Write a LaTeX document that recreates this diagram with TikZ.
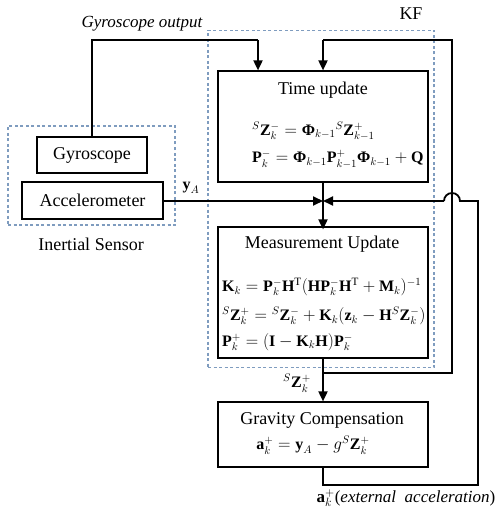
\documentclass[tikz,border=0pt]{standalone}
\usepackage{fontspec}
\setmainfont{Liberation Serif}
\usetikzlibrary{arrows.meta}
\definecolor{dashblue}{HTML}{7F9CBF}
\begin{document}
\begin{tikzpicture}[x=1pt,y=-1pt,
  every node/.style={font=\fontsize{18}{21}\selectfont, inner sep=0pt},
  blk/.style={draw=black, line width=1.2pt, rectangle},
  grp/.style={draw=dashblue, line width=1.1pt, dash pattern=on 3pt off 2.5pt},
  conn/.style={draw=black, line width=1.8pt},
  arr/.style={conn, -{Triangle[length=10pt,width=9pt]}},
  eq/.style={anchor=west, font=\fontsize{16}{19}\selectfont}]
\useasboundingbox (0,0) rectangle (500,513);

% group boxes
\node[grp, minimum width=226pt, minimum height=337pt] (kf) at (321,199) {};
\node[grp, minimum width=167pt, minimum height=99pt] (ins) at (91.5,175.5) {};
\node (kflabel) at (411,14) {KF};
\node (inslabel) at (91,244) {Inertial Sensor};

% sensor blocks
\node[blk, minimum width=110pt, minimum height=36pt] (gyro) at (92,155) {Gyroscope};
\node[blk, minimum width=141pt, minimum height=37pt] (acc) at (92.5,200.5) {Accelerometer};

% KF blocks
\node[blk, minimum width=210pt, minimum height=111pt] (tu) at (323,126.5) {};
\node (tutitle) at (323,90) {Time update};
\node[eq] (tueq1) at (252,131) {${}^{S}\textbf{Z}_k^- = \textbf{Φ}_{k-1}{}^{S}\textbf{Z}^+_{k-1}$};
\node[eq] (tueq2) at (252,159) {$\textbf{P}_k^- = \textbf{Φ}_{k-1}\textbf{P}^+_{k-1}\textbf{Φ}_{k-1} + \textbf{Q}$};

\node[blk, minimum width=210pt, minimum height=131pt] (mu) at (323,292.5) {};
\node (mutitle) at (322,244) {Measurement Update};
\node[eq] (mueq1) at (222,287) {$\textbf{K}_k = \textbf{P}_k^-\textbf{H}^{\mathrm{T}}(\textbf{HP}_k^-\textbf{H}^{\mathrm{T}} + \textbf{M}_k)^{-1}$};
\node[eq] (mueq2) at (222,316) {${}^{S}\textbf{Z}_k^+ = {}^{S}\textbf{Z}_k^- + \textbf{K}_k(\textbf{z}_k - \textbf{H}{}^{S}\textbf{Z}_k^-)$};
\node[eq] (mueq3) at (222,342) {$\textbf{P}_k^+ = (\textbf{I} - \textbf{K}_k\textbf{H})\textbf{P}_k^-$};

\node[blk, minimum width=210pt, minimum height=65pt] (gc) at (323,434.5) {};
\node (gctitle) at (322,420) {Gravity Compensation};
\node[font=\fontsize{16}{19}\selectfont] (gceq) at (313,445) {$\textbf{a}_k^+ = \textbf{y}_A - g{}^{S}\textbf{Z}_k^+$};

% labels
\node (gyrolabel) at (142,24) {\fontsize{17}{20}\selectfont\itshape Gyroscope output};
\node[font=\fontsize{16}{19}\selectfont] (yalabel) at (191,188) {$\textbf{y}_A$};
\node[font=\fontsize{16}{19}\selectfont] (zlabel) at (297,383) {${}^{S}\textbf{Z}_k^+$};
\node[font=\fontsize{17}{20}\selectfont] (alabel) at (406,498) {$\textbf{a}_k^+$(\textit{external\ \ acceleration})};

% coordinates
\coordinate (j) at (323,201);
\coordinate (g1) at (92,40);
\coordinate (g2) at (258,40);
\coordinate (f1) at (323,373);
\coordinate (f2) at (452,373);
\coordinate (f3) at (452,40);
\coordinate (f4) at (323,40);
\coordinate (a1) at (323,485);
\coordinate (a2) at (478,485);
\coordinate (a3) at (478,201);

% connectors
\draw[conn] (gyro.north) -- (gyro.north |- g1) -- (g2);
\draw[arr] (g2) -- (g2 |- tu.north);
\draw[conn] (mu.south |- f1) -- (f2) -- (f3) -- (f4);
\draw[arr] (f4) -- (tu.north);
\draw[arr] (tu.south) -- ([yshift=-3pt]mu.north);
\draw[arr] (acc.east |- j) -- (j);
\draw[conn] (mu.south) -- (mu.south |- f1);
\draw[arr] (mu.south |- f1) -- (gc.north);
\draw[conn] (gc.south) -- (a1) -- (a2) -- (a3) -- (460,201) arc[start angle=0, end angle=180, radius=8pt];
\draw[arr] (444,201) -- (j);
\end{tikzpicture}
\end{document}
